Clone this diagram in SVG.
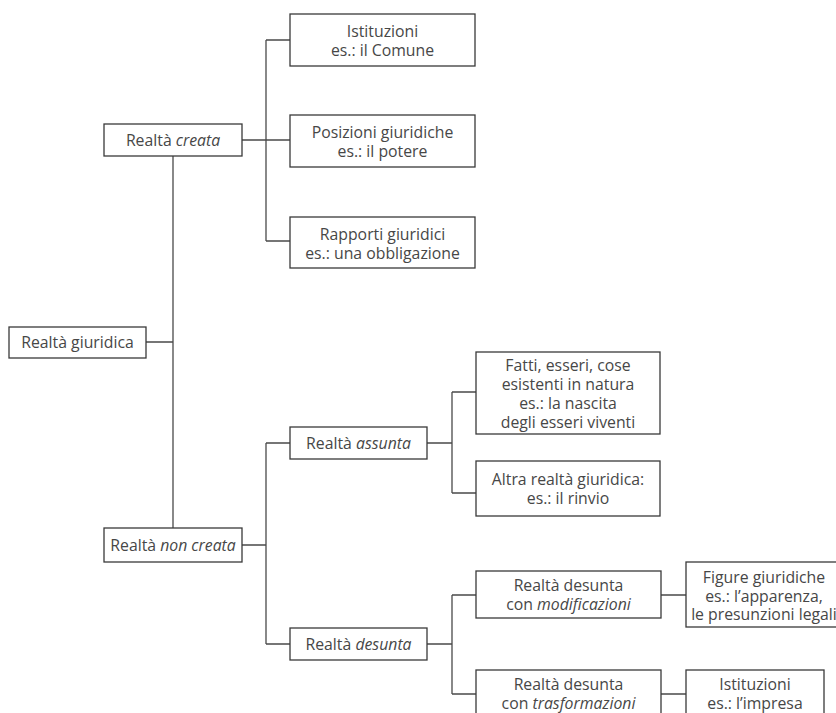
<svg xmlns="http://www.w3.org/2000/svg" width="836" height="713" viewBox="0 0 836 713">
<style>
.box{fill:#fff;stroke:#3a3a3a;stroke-width:1.3}
.t{font-family:"Open Sans","Liberation Sans",sans-serif;font-size:15.8px;fill:#474747;text-anchor:middle}
.i{font-style:italic}
#connectors path{fill:none;stroke:#4a4a4a;stroke-width:1.3}
</style>
<rect width="836" height="713" fill="#fff"/>
<g id="connectors">
<path d="M146 342H173M173 156V528"/>
<path d="M242 140H290M266 40V241M266 40H290M266 241H290"/>
<path d="M242 545H266M266 443V644M266 443H290M266 644H290"/>
<path d="M427 443H452M452 392V493M452 392H476M452 493H476"/>
<path d="M427 644H452M452 595V694M452 595H476M452 694H476"/>
<path d="M661 595H686M661 694H686"/>
</g>
<g id="giuridica"><rect class="box" x="9" y="327" width="137" height="31"/><text class="t" x="77.5" y="348">Realtà giuridica</text></g>
<g id="creata"><rect class="box" x="104" y="124" width="138" height="32"/><text class="t" x="173" y="145.5">Realtà <tspan class="i">creata</tspan></text></g>
<g id="noncreata"><rect class="box" x="104" y="528" width="138" height="34"/><text class="t" x="173" y="550.5">Realtà <tspan class="i">non creata</tspan></text></g>
<g id="istituzioni"><rect class="box" x="290" y="14" width="185" height="52"/><text class="t" x="382.5" y="37">Istituzioni</text><text class="t" x="382.5" y="56">es.: il Comune</text></g>
<g id="posizioni"><rect class="box" x="290" y="115" width="185" height="52"/><text class="t" x="382.5" y="138">Posizioni giuridiche</text><text class="t" x="382.5" y="157">es.: il potere</text></g>
<g id="rapporti"><rect class="box" x="290" y="217" width="185" height="51"/><text class="t" x="382.5" y="239.5">Rapporti giuridici</text><text class="t" x="382.5" y="258.5">es.: una obbligazione</text></g>
<g id="assunta"><rect class="box" x="290" y="427" width="137" height="32"/><text class="t" x="358.5" y="448.5">Realtà <tspan class="i">assunta</tspan></text></g>
<g id="desunta"><rect class="box" x="290" y="628" width="137" height="32"/><text class="t" x="358.5" y="649.5">Realtà <tspan class="i">desunta</tspan></text></g>
<g id="fatti"><rect class="box" x="476" y="352" width="184" height="82"/><text class="t" x="568" y="371">Fatti, esseri, cose</text><text class="t" x="568" y="390">esistenti in natura</text><text class="t" x="568" y="409">es.: la nascita</text><text class="t" x="568" y="428">degli esseri viventi</text></g>
<g id="altra"><rect class="box" x="476" y="461" width="184" height="55"/><text class="t" x="568" y="485">Altra realtà giuridica:</text><text class="t" x="568" y="504">es.: il rinvio</text></g>
<g id="modificazioni"><rect class="box" x="476" y="571" width="185" height="47"/><text class="t" x="568.5" y="591">Realtà desunta</text><text class="t" x="568.5" y="610">con <tspan class="i">modificazioni</tspan></text></g>
<g id="trasformazioni"><rect class="box" x="476" y="670" width="185" height="48"/><text class="t" x="568.5" y="690">Realtà desunta</text><text class="t" x="568.5" y="709">con <tspan class="i">trasformazioni</tspan></text></g>
<g id="figure"><rect class="box" x="686" y="562" width="156" height="65"/><text class="t" x="764" y="583">Figure giuridiche</text><text class="t" x="764" y="601.5">es.: l’apparenza,</text><text class="t" x="764" y="620">le presunzioni legali</text></g>
<g id="istituzioni2"><rect class="box" x="686" y="670" width="138" height="48"/><text class="t" x="755" y="690">Istituzioni</text><text class="t" x="755" y="709">es.: l’impresa</text></g>
</svg>
